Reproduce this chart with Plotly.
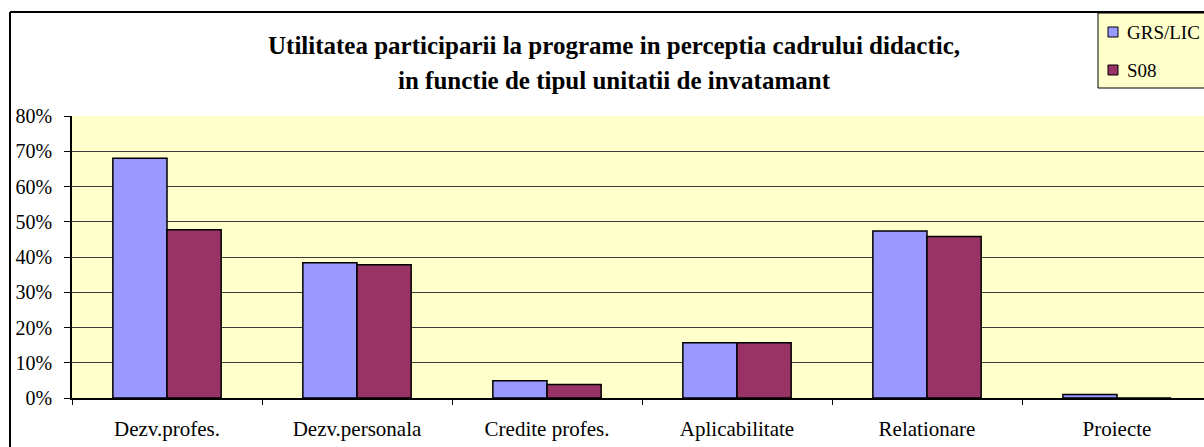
import plotly.graph_objects as go

# ---- data ----
categories = ["Dezv.profes.", "Dezv.personala", "Credite profes.", "Aplicabilitate", "Relationare", "Proiecte"]
series_names = ["GRS/LIC", "S08"]
grs_lic = [68.0, 38.4, 4.9, 15.7, 47.4, 1.0]
s08 = [47.7, 37.8, 3.8, 15.7, 45.8, 0.0]
series_colors = ["#9999FF", "#993366"]
y_ticks = [0, 10, 20, 30, 40, 50, 60, 70, 80]
y_tick_labels = [f"{v}%" for v in y_ticks]
title_lines = ["Utilitatea participarii la programe in perceptia cadrului didactic,",
               "in functie de tipul unitatii de invatamant"]

W, H = 1204, 447
L, R, T, B = 72, 0, 116, 49
PW, PH = W - L - R, H - T - B
FONT = "Liberation Serif, Times New Roman, serif"


def px(x):
    return (x - L) / PW


def py(y):
    return (H - B - y) / PH


fig = go.Figure()
for name, vals, col in zip(series_names, [grs_lic, s08], series_colors):
    fig.add_trace(go.Bar(
        x=categories, y=vals, name=name,
        marker=dict(color=col, line=dict(color="black", width=1.5)),
        showlegend=False, hoverinfo="skip",
    ))

cat_w = 190.0
x_end = -0.5 + PW / cat_w

shapes = []
# chart outer border (top and left)
shapes.append(dict(type="line", xref="paper", yref="paper", x0=px(10), x1=px(W + 5), y0=py(12), y1=py(12),
                   line=dict(color="black", width=2)))
shapes.append(dict(type="line", xref="paper", yref="paper", x0=px(10), x1=px(10), y0=py(12), y1=py(H + 5),
                   line=dict(color="black", width=2)))
# legend box
shapes.append(dict(type="rect", xref="paper", yref="paper", x0=px(1098), x1=px(1215), y0=py(88), y1=py(13),
                   fillcolor="#FFFFCC", line=dict(color="black", width=1)))
annotations = []
leg_y = [32, 70]
for name, col, yy in zip(series_names, series_colors, leg_y):
    shapes.append(dict(type="rect", xref="paper", yref="paper", x0=px(1108), x1=px(1118),
                       y0=py(yy + 5), y1=py(yy - 5), fillcolor=col, line=dict(color="black", width=1)))
    annotations.append(dict(text=name, xref="paper", yref="paper", x=px(1125), y=py(yy),
                            xanchor="left", yanchor="middle", showarrow=False,
                            font=dict(family=FONT, size=19, color="black")))
for line, yy in zip(title_lines, [45, 80]):
    annotations.append(dict(text=f"<b>{line}</b>", xref="paper", yref="paper", x=px(614), y=py(yy),
                            xanchor="center", yanchor="middle", showarrow=False,
                            font=dict(family=FONT, size=25, color="black")))

fig.update_layout(
    width=W, height=H,
    margin=dict(l=L, r=R, t=T, b=B, pad=0),
    paper_bgcolor="white", plot_bgcolor="#FFFFCC",
    barmode="group", bargap=0.43, bargroupgap=0,
    shapes=shapes, annotations=annotations,
    font=dict(family=FONT, size=20, color="black"),
)
fig.update_xaxes(
    range=[-0.5, x_end], tickson="boundaries", ticks="outside", ticklen=5, tickcolor="black",
    showline=True, linecolor="black", linewidth=1.5, showgrid=False,
    ticklabelstandoff=11, tickfont=dict(family=FONT, size=21, color="black"),
)
fig.update_yaxes(
    range=[0, 80], tickvals=y_ticks, ticktext=y_tick_labels, ticks="outside", ticklen=6, tickcolor="black",
    showline=True, linecolor="black", linewidth=1.5,
    showgrid=True, gridcolor="#3a3a3a", gridwidth=1, zeroline=False,
    ticklabelstandoff=8, tickfont=dict(family=FONT, size=20, color="black"),
)

fig.write_html("out.html", config={"displayModeBar": False},
               post_script="document.body.style.margin='0';")
